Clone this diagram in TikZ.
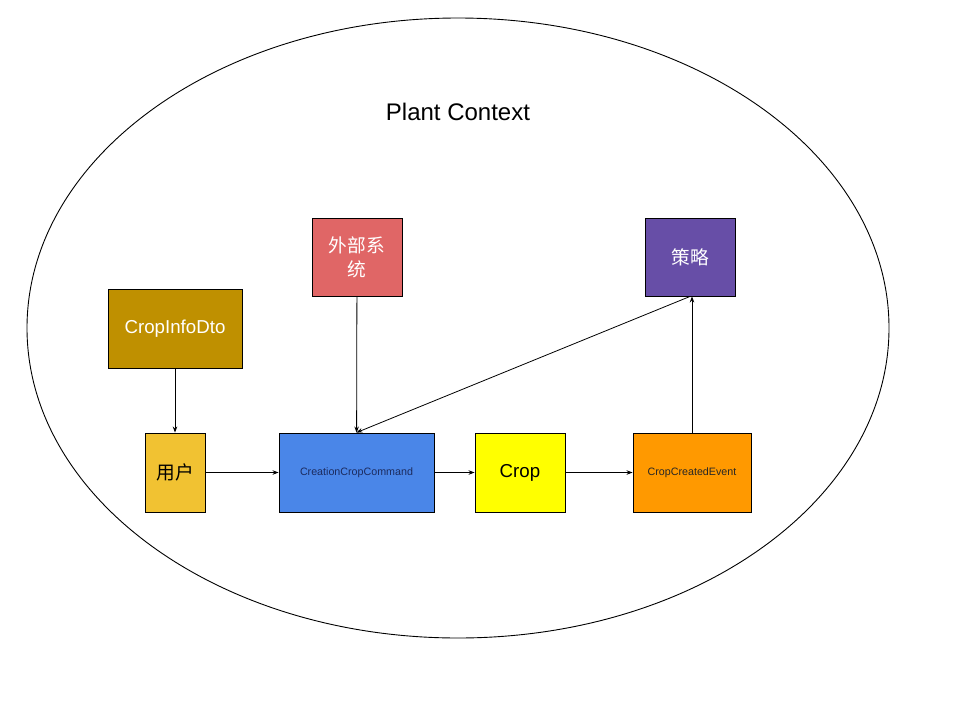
\documentclass[tikz,border=0pt]{standalone}
\usepackage{fontspec}
\setmainfont{Liberation Sans}
\newfontfamily\cjkfont{Noto Sans CJK SC}
\usepackage{xcolor}
\usetikzlibrary{arrows.meta,positioning,calc}

\definecolor{dtogold}{HTML}{BF9000}
\definecolor{extred}{HTML}{E06666}
\definecolor{stratpurple}{HTML}{674EA7}
\definecolor{useryellow}{HTML}{F1C232}
\definecolor{cmdblue}{HTML}{4A86E8}
\definecolor{cmdtext}{HTML}{1C2B5E}
\definecolor{cropyellow}{HTML}{FFFF00}
\definecolor{evtorange}{HTML}{FF9900}

\begin{document}
\begin{tikzpicture}[
    x=1pt, y=-1pt,
    box/.style={rectangle, draw=black, line width=0.9pt, minimum height=79pt, inner sep=2pt, align=center},
    arrow/.style={-{Stealth[length=6pt,width=4.5pt]}, line width=0.8pt}
]
    \useasboundingbox (0,0) rectangle (960,720);

    % context boundary
    \draw[line width=0.9pt] (458,328) ellipse [x radius=431pt, y radius=310pt];
    \node[font=\fontsize{24}{28}\selectfont] (title) at (458,112) {Plant Context};

    % upper row
    \node[box, fill=dtogold, text=white, minimum width=134pt, font=\fontsize{18.7}{22}\selectfont] (dto) at (175,328.5) {CropInfoDto};
    \node[box, fill=extred, text=white, minimum width=90pt, minimum height=78pt, font=\cjkfont\fontsize{18.7}{24}\selectfont] (extsys) at (357,257) {外部系\\统};
    \node[box, fill=stratpurple, text=white, minimum width=90pt, minimum height=78pt, font=\cjkfont\fontsize{18.7}{24}\selectfont] (strategy) at (690,257) {策略};

    % lower row
    \node[box, fill=useryellow, minimum width=60pt, font=\cjkfont\fontsize{18.7}{24}\selectfont] (user) at (175,472.5) {用户};
    \node[box, fill=cmdblue, text=cmdtext, minimum width=155pt, font=\fontsize{10.7}{13}\selectfont] (command) at (356.5,472.5) {CreationCropCommand};
    \node[box, fill=cropyellow, minimum width=90pt, font=\fontsize{18.7}{22}\selectfont] (crop) at (520,472.5) {Crop};
    \node[box, fill=evtorange, text=black!85, minimum width=118pt, font=\fontsize{10.7}{13}\selectfont] (event) at (692,472.5) {CropCreatedEvent};

    \draw[arrow] (dto) -- (user);
    \draw[arrow] (extsys) -- (command);
    \draw[arrow] (strategy.south) -- (command.north);
    \draw[arrow] (user) -- (command);
    \draw[arrow] (command) -- (crop);
    \draw[arrow] (crop) -- (event);
    \draw[arrow] (event) -- (event |- strategy.south);
\end{tikzpicture}
\end{document}
